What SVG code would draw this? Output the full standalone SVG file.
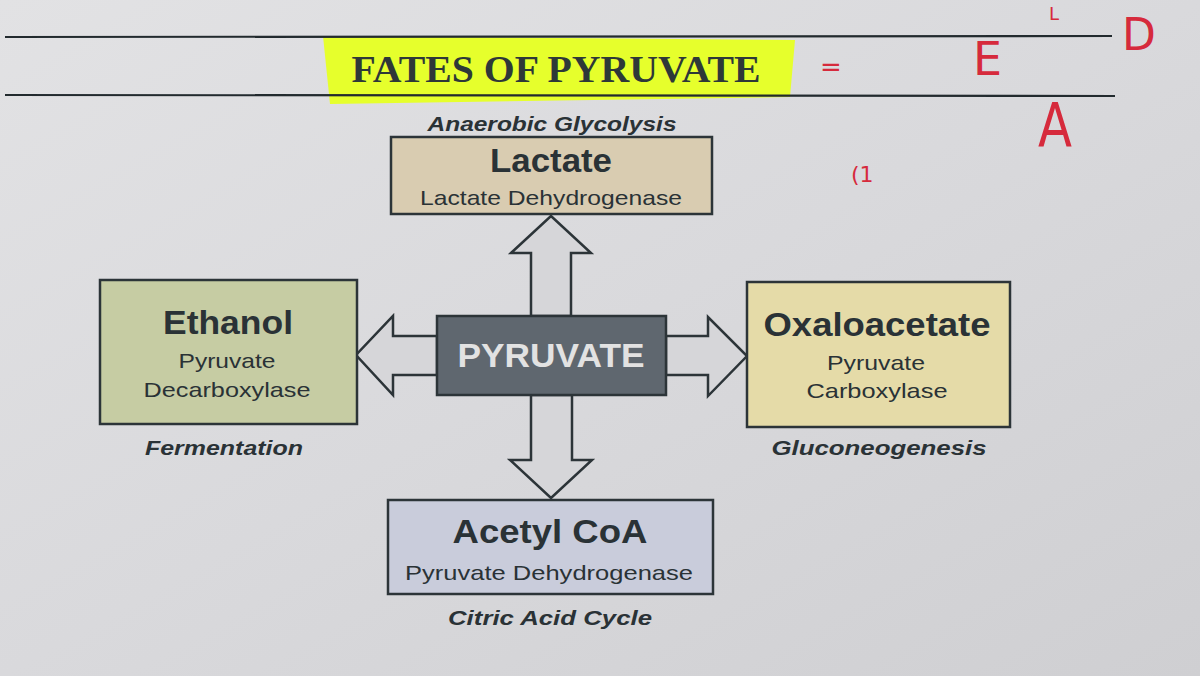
<svg xmlns="http://www.w3.org/2000/svg" width="1200" height="676" viewBox="0 0 1200 676">
<defs>
<linearGradient id="paper" x1="0" y1="0" x2="1" y2="1">
<stop offset="0" stop-color="#e2e2e4"/>
<stop offset="0.5" stop-color="#d9d9dc"/>
<stop offset="1" stop-color="#cfcfd2"/>
</linearGradient>
<style>
.box{stroke:#2c3438;stroke-width:2.5}
.arrow{fill:#d6d6d9;stroke:#2c3438;stroke-width:2.5;stroke-linejoin:miter}
.t{font-family:"Liberation Sans",Arial,sans-serif;fill:#2a3236;text-anchor:middle}
.big{font-size:33px;font-weight:bold}
.sub{font-size:21px}
.cap{font-size:21px;font-weight:bold;font-style:italic}
.hand{font-family:"DejaVu Sans",sans-serif;fill:#d62a3c}
.rule{stroke:#222a2e;stroke-width:2.2}
</style>
</defs>
<rect x="0" y="0" width="1200" height="676" fill="url(#paper)"/>

<g id="title">
<path d="M323,36 L795,40 L790,97 L330,104 Z" fill="#e6ff2c"/>
<line class="rule" x1="5" y1="37" x2="1112" y2="36"/>
<line class="rule" x1="5" y1="95" x2="1115" y2="96"/>
<text x="556" y="82" font-family="'Liberation Serif','Times New Roman',serif" font-weight="bold" font-size="37" fill="#2e3838" text-anchor="middle" textLength="409" lengthAdjust="spacingAndGlyphs">FATES OF PYRUVATE</text>
</g>

<g id="annotations">
<text class="hand" x="973" y="75" style="font-size:46px">E</text>
<text class="hand" x="1122" y="50" style="font-size:44px">D</text>
<text class="hand" x="1038" y="146" style="font-size:60px" textLength="34" lengthAdjust="spacingAndGlyphs">A</text>
<text class="hand" x="1049" y="20" style="font-size:18px">L</text>
<text class="hand" x="820" y="76" style="font-size:26px">=</text>
<text class="hand" x="851" y="182" style="font-size:22px">(1</text>
</g>

<g id="connectors">
<path class="arrow" d="M531,316 L531,253 L511,253 L551,216 L591,253 L571,253 L571,316 Z"/>
<path class="arrow" d="M531,395 L531,460 L510,460 L551,498 L592,460 L572,460 L572,395 Z"/>
<path class="arrow" d="M437,336 L393,336 L393,316 L356,355 L393,395 L393,375 L437,375 Z"/>
<path class="arrow" d="M666,336 L708,336 L708,317 L747,356 L708,396 L708,375 L666,375 Z"/>
</g>

<g id="pyruvate">
<rect class="box" x="437" y="316" width="229" height="79" fill="#5f676f"/>
<text class="t big" x="551" y="367" style="fill:#e2e2e2" textLength="187" lengthAdjust="spacingAndGlyphs">PYRUVATE</text>
</g>

<g id="lactate">
<text class="t cap" x="552" y="131" textLength="249" lengthAdjust="spacingAndGlyphs">Anaerobic Glycolysis</text>
<rect class="box" x="391" y="137" width="321" height="77" fill="#d9ccb1"/>
<text class="t big" x="551" y="172" textLength="122" lengthAdjust="spacingAndGlyphs">Lactate</text>
<text class="t sub" x="551" y="205" textLength="262" lengthAdjust="spacingAndGlyphs">Lactate Dehydrogenase</text>
</g>

<g id="ethanol">
<rect class="box" x="100" y="280" width="257" height="144" fill="#c6cca3"/>
<text class="t big" x="228" y="334" textLength="130" lengthAdjust="spacingAndGlyphs">Ethanol</text>
<text class="t sub" x="227" y="368" textLength="97" lengthAdjust="spacingAndGlyphs">Pyruvate</text>
<text class="t sub" x="227" y="397" textLength="167" lengthAdjust="spacingAndGlyphs">Decarboxylase</text>
<text class="t cap" x="224" y="455" textLength="158" lengthAdjust="spacingAndGlyphs">Fermentation</text>
</g>

<g id="oxaloacetate">
<rect class="box" x="747" y="282" width="263" height="145" fill="#e5dba8"/>
<text class="t big" x="877" y="336" textLength="227" lengthAdjust="spacingAndGlyphs">Oxaloacetate</text>
<text class="t sub" x="876" y="370" textLength="98" lengthAdjust="spacingAndGlyphs">Pyruvate</text>
<text class="t sub" x="877" y="398" textLength="141" lengthAdjust="spacingAndGlyphs">Carboxylase</text>
<text class="t cap" x="879" y="455" textLength="215" lengthAdjust="spacingAndGlyphs">Gluconeogenesis</text>
</g>

<g id="acetylcoa">
<rect class="box" x="388" y="500" width="325" height="94" fill="#c9ccdb"/>
<text class="t big" x="550" y="543" textLength="195" lengthAdjust="spacingAndGlyphs">Acetyl CoA</text>
<text class="t sub" x="549" y="580" textLength="288" lengthAdjust="spacingAndGlyphs">Pyruvate Dehydrogenase</text>
<text class="t cap" x="550" y="625" textLength="204" lengthAdjust="spacingAndGlyphs">Citric Acid Cycle</text>
</g>
</svg>
